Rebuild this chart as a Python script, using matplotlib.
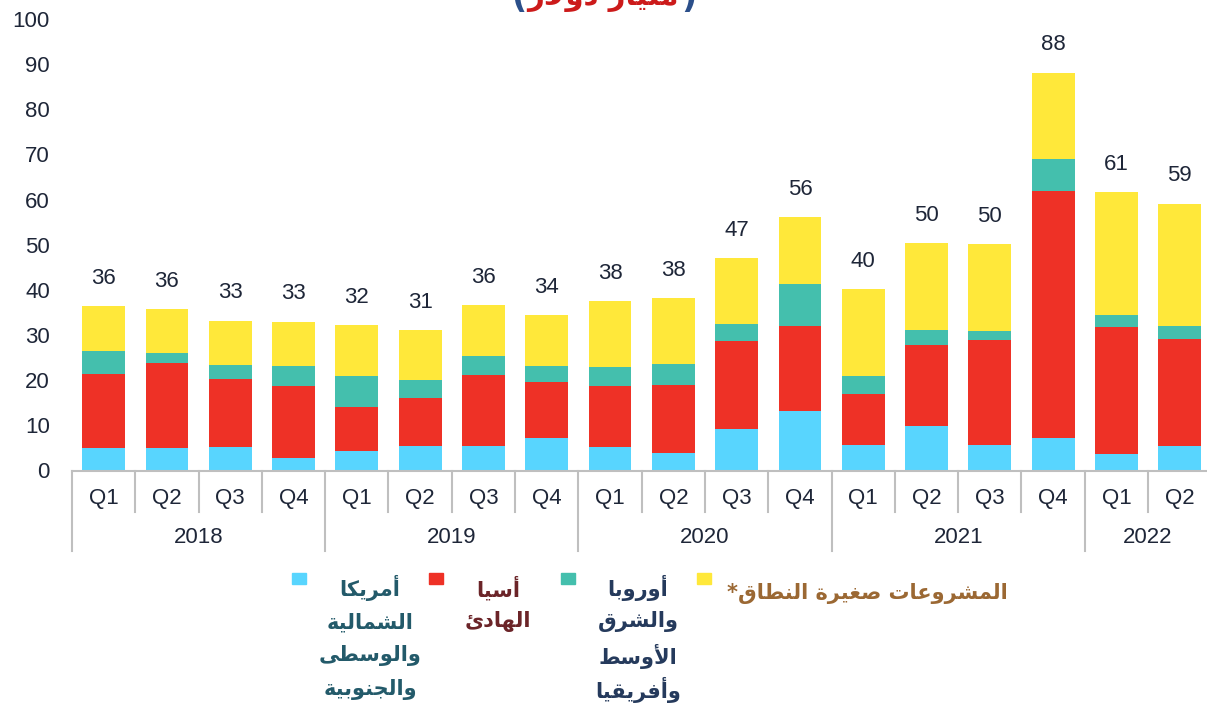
import matplotlib
matplotlib.use('Agg')
import matplotlib.pyplot as plt
from matplotlib.patches import Rectangle
import numpy as np

# data (billion USD)
quarters = ['Q1', 'Q2', 'Q3', 'Q4'] * 4 + ['Q1', 'Q2']
years = ['2018', '2019', '2020', '2021', '2022']
americas = [4.9, 4.9, 5.2, 2.7, 4.4, 5.5, 5.5, 7.2, 5.1, 3.8, 9.1, 13.2, 5.7, 9.9, 5.6, 7.2, 3.6, 5.5]
asia = [16.4, 18.9, 15.1, 16.0, 9.6, 10.5, 15.7, 12.3, 13.6, 15.2, 19.6, 18.8, 11.2, 17.9, 23.3, 54.8, 28.2, 23.7]
emea = [5.1, 2.2, 3.0, 4.4, 6.9, 4.0, 4.1, 3.6, 4.2, 4.5, 3.8, 9.4, 4.0, 3.3, 1.9, 7.1, 2.6, 2.7]
small = [10.0, 9.8, 9.9, 9.9, 11.3, 11.1, 11.3, 11.3, 14.6, 14.7, 14.5, 14.7, 19.2, 19.2, 19.3, 19.0, 27.2, 27.2]
totals = [36, 36, 33, 33, 32, 31, 36, 34, 38, 38, 47, 56, 40, 50, 50, 88, 61, 59]

lbl_americas = ['أمريكا', 'الشمالية', 'والوسطى', 'والجنوبية']
lbl_asia = ['أسيا', 'الهادئ']
lbl_emea = ['أوروبا', 'والشرق', 'الأوسط', 'وأفريقيا']
lbl_small = ['المشروعات صغيرة النطاق*']
title_txt = 'مليار دولار'

# --- minimal arabic shaping (matplotlib has no bidi / shaping) ---
FORMS = {
    'ا': ('\uFE8D', '\uFE8E', None, None), 'أ': ('\uFE83', '\uFE84', None, None),
    'ب': ('\uFE8F', '\uFE90', '\uFE91', '\uFE92'), 'ة': ('\uFE93', '\uFE94', None, None),
    'ت': ('\uFE95', '\uFE96', '\uFE97', '\uFE98'), 'ج': ('\uFE9D', '\uFE9E', '\uFE9F', '\uFEA0'),
    'د': ('\uFEA9', '\uFEAA', None, None), 'ر': ('\uFEAD', '\uFEAE', None, None),
    'س': ('\uFEB1', '\uFEB2', '\uFEB3', '\uFEB4'), 'ش': ('\uFEB5', '\uFEB6', '\uFEB7', '\uFEB8'),
    'ص': ('\uFEB9', '\uFEBA', '\uFEBB', '\uFEBC'), 'ط': ('\uFEC1', '\uFEC2', '\uFEC3', '\uFEC4'),
    'ع': ('\uFEC9', '\uFECA', '\uFECB', '\uFECC'), 'غ': ('\uFECD', '\uFECE', '\uFECF', '\uFED0'),
    'ف': ('\uFED1', '\uFED2', '\uFED3', '\uFED4'), 'ق': ('\uFED5', '\uFED6', '\uFED7', '\uFED8'),
    'ك': ('\uFED9', '\uFEDA', '\uFEDB', '\uFEDC'), 'ل': ('\uFEDD', '\uFEDE', '\uFEDF', '\uFEE0'),
    'م': ('\uFEE1', '\uFEE2', '\uFEE3', '\uFEE4'), 'ن': ('\uFEE5', '\uFEE6', '\uFEE7', '\uFEE8'),
    'ه': ('\uFEE9', '\uFEEA', '\uFEEB', '\uFEEC'), 'و': ('\uFEED', '\uFEEE', None, None),
    'ى': ('\uFEEF', '\uFEF0', None, None), 'ي': ('\uFEF1', '\uFEF2', '\uFEF3', '\uFEF4'),
    'ئ': ('\uFE89', '\uFE8A', '\uFE8B', '\uFE8C'),
}
LIG = {'ا': ('\uFEFB', '\uFEFC', None, None), 'أ': ('\uFEF7', '\uFEF8', None, None)}


def forms_of(t):
    if isinstance(t, tuple):
        return LIG[t[1]]
    return FORMS.get(t)


def shape(s):
    tokens = []
    i = 0
    while i < len(s):
        if s[i] == 'ل' and i + 1 < len(s) and s[i + 1] in LIG:
            tokens.append(('lig', s[i + 1]))
            i += 2
        else:
            tokens.append(s[i])
            i += 1
    out = []
    for k, t in enumerate(tokens):
        f = forms_of(t)
        if f is None:
            out.append(t)
            continue
        prev = forms_of(tokens[k - 1]) if k > 0 else None
        nxt = forms_of(tokens[k + 1]) if k + 1 < len(tokens) else None
        jp = prev is not None and prev[2] is not None
        jn = f[2] is not None and nxt is not None
        if jp and jn:
            out.append(f[3])
        elif jp:
            out.append(f[1])
        elif jn:
            out.append(f[2])
        else:
            out.append(f[0])
    return ''.join(out)[::-1].translate(str.maketrans('()', ')('))


plt.rcParams['font.family'] = ['Liberation Sans', 'DejaVu Sans']

c_blue, c_red, c_teal, c_yellow = '#58d5fe', '#ee3126', '#44bfad', '#ffe83a'
txt_col = '#1e2638'
fs = 16

fig = plt.figure(figsize=(12.07, 7.04), dpi=100)
ax = fig.add_axes([72 / 1207, 1 - 470.5 / 704, 18 * 63.3 / 1207, 451.5 / 704])

x = np.arange(len(quarters))
w = 0.675
b1 = np.array(americas)
b2 = b1 + np.array(asia)
b3 = b2 + np.array(emea)
ax.bar(x, americas, w, color=c_blue, zorder=3)
ax.bar(x, asia, w, bottom=b1, color=c_red, zorder=3)
ax.bar(x, emea, w, bottom=b2, color=c_teal, zorder=3)
ax.bar(x, small, w, bottom=b3, color=c_yellow, zorder=3)
tops = b3 + np.array(small)
for xi, top, t in zip(x, tops, totals):
    ax.annotate(str(t), (xi, top), xytext=(0, 20), textcoords='offset points',
                ha='center', va='center', fontsize=fs, color=txt_col)

ax.set_xlim(-0.5, len(quarters) - 0.5)
ax.set_ylim(0, 100)
ax.set_yticks(range(0, 101, 10))
ax.tick_params(axis='y', length=0, pad=16, labelsize=fs, labelcolor=txt_col)
ax.set_xticks([])
for s in ['top', 'right', 'left', 'bottom']:
    ax.spines[s].set_visible(False)
ax.axhline(0, color='#bfbfbf', lw=1.5, zorder=4, clip_on=False)

# category axis: quarters + years
tr = ax.get_xaxis_transform()
for xi, q in zip(x, quarters):
    ax.text(xi, -0.063, q, transform=tr, ha='center', va='center', fontsize=fs, color=txt_col)
year_start = [0, 4, 8, 12, 16]
year_len = [4, 4, 4, 4, 2]
for i in range(len(quarters) + 1):
    edge = i - 0.5
    is_year = (i in year_start) or i == len(quarters)
    ax.plot([edge, edge], [0, -0.178 if is_year else -0.091], transform=tr,
            color='#bfbfbf', lw=1.5, clip_on=False)
for ys, yl, yr in zip(year_start, year_len, years):
    ax.text(ys + yl / 2 - 0.5, -0.148, yr, transform=tr, ha='center', va='center',
            fontsize=fs, color=txt_col)

# title, mostly cut off at the top as in the source
ar = dict(family=['DejaVu Sans'], fontweight='bold')
fig.text(603 / 1207, 1 - 5 / 704, shape(title_txt), ha='center', va='baseline',
         color='#cc1a1a', fontsize=21, **ar)
fig.text(526 / 1207, 1 - 8 / 704, '(', ha='right', va='baseline', color='#2b4f8a', fontsize=24, **ar)
fig.text(681 / 1207, 1 - 8 / 704, ')', ha='left', va='baseline', color='#2b4f8a', fontsize=24, **ar)

# legend, laid out right to left
leg = [(292, c_blue, lbl_americas, 370, '#235a6a', 588),
       (429, c_red, lbl_asia, 498, '#6b2428', 588),
       (561, c_teal, lbl_emea, 638, '#253a5c', 588),
       (697, c_yellow, lbl_small, 867, '#9b6833', 593)]
for sx, col, lines, tx, tcol, ty in leg:
    fig.add_artist(Rectangle((sx / 1207, 1 - 584 / 704), 14 / 1207, 11 / 704,
                             transform=fig.transFigure, color=col))
    for k, line in enumerate(lines):
        fig.text(tx / 1207, 1 - (ty + 34 * k) / 704, shape(line), ha='center', va='center',
                 color=tcol, fontsize=15, **ar)

fig.savefig('out.png', dpi=100)
